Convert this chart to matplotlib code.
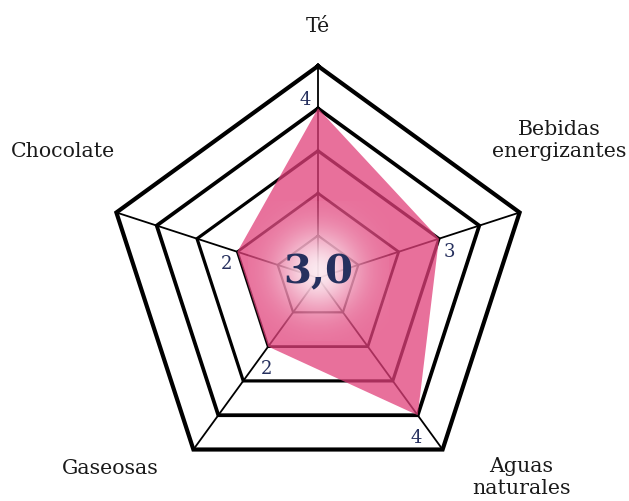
import numpy as np
import matplotlib.pyplot as plt

# Data
categories = ['Té', 'Bebidas\nenergizantes', 'Aguas\nnaturales', 'Gaseosas', 'Chocolate']
values = [4, 3, 4, 2, 2]
levels = [1, 2, 3, 4, 5]
average_label = '3,0'

# Layout (pixels of the 629x502 canvas)
cx, cy = 318, 279
unit = 42.4
angles = np.deg2rad([90, 18, -54, -126, 162])
ring_widths = [1.6, 2.0, 2.3, 2.7, 3.0]

pink = '#e1407a'
navy = '#26305e'
serif = ['DejaVu Serif']


def point(r, a):
    return cx + r * unit * np.cos(a), cy - r * unit * np.sin(a)


fig = plt.figure(figsize=(6.29, 5.02), dpi=100)
ax = fig.add_axes([0, 0, 1, 1])

# Pentagon rings
for lev, lw in zip(levels, ring_widths):
    xs, ys = point(lev, np.append(angles, angles[0]))
    ax.plot(xs, ys, color='black', lw=lw, solid_joinstyle='miter', zorder=1)

# Spokes
for a in angles:
    x1, y1 = point(max(levels), a)
    ax.plot([cx, x1], [cy, y1], color='black', lw=1.3, zorder=1)

# Value polygon
vx, vy = point(np.array(values), angles)
ax.fill(vx, vy, color=pink, alpha=0.75, lw=0, zorder=2)

# White glow in the centre
gx = np.linspace(-70, 70, 141)
gxx, gyy = np.meshgrid(gx, gx)
rr = np.hypot(gxx, gyy)
glow = np.ones((141, 141, 4))
glow[..., 3] = 0.85 * np.exp(-(rr / 40.0) ** 2)
gy0 = cy - 7
ax.imshow(glow, extent=(cx - 70, cx + 70, gy0 + 70, gy0 - 70),
          interpolation='bilinear', zorder=3)

ax.set_xlim(0, 629)
ax.set_ylim(502, 0)
ax.axis('off')

ax.text(cx, gy0, average_label, fontsize=29, fontweight='bold', color=navy,
        family=serif, ha='center', va='center', zorder=4)

# Value labels next to each vertex
offsets = [(-13, -9), (10, 12), (-2, 22), (-2, 21), (-11, 11)]
for v, a, (dx, dy) in zip(values, angles, offsets):
    x, y = point(v, a)
    ax.text(x + dx, y + dy, str(v), fontsize=13, color=navy, family=serif,
            ha='center', va='center', zorder=4)

# Category labels
label_pos = [(318, 27), (559, 141), (521, 478), (110, 469), (63, 152)]
for lab, (lx, ly) in zip(categories, label_pos):
    ax.text(lx, ly, lab, fontsize=14.8, color='#1a1a1a', family=serif,
            ha='center', va='center', linespacing=1.2, zorder=4)

fig.savefig('out.png', dpi=100)
